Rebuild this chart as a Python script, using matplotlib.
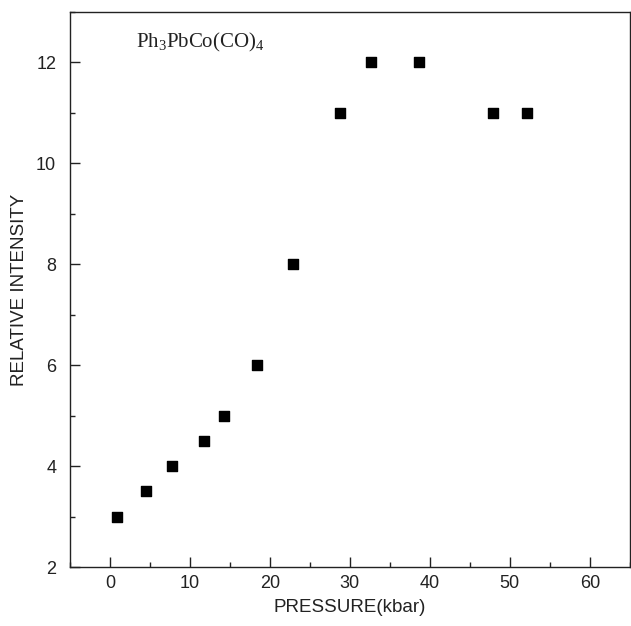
import matplotlib
matplotlib.use('Agg')
import matplotlib.pyplot as plt
from matplotlib.ticker import MultipleLocator

# pressure (kbar) and relative intensity
pressure = [0.9, 4.5, 7.7, 11.7, 14.3, 18.4, 22.9, 28.8, 32.6, 38.6, 47.9, 52.2]
intensity = [3.0, 3.5, 4.0, 4.5, 5.0, 6.0, 8.0, 11.0, 12.0, 12.0, 11.0, 11.0]

x_label = 'PRESSURE(kbar)'
y_label = 'RELATIVE INTENSITY'
compound = r'Ph$_3$PbCo(CO)$_4$'

plt.rcParams['font.family'] = ['Liberation Sans', 'DejaVu Sans']
plt.rcParams['mathtext.fontset'] = 'custom'
plt.rcParams['mathtext.rm'] = 'Liberation Serif'
plt.rcParams['mathtext.it'] = 'Liberation Serif:italic'

fig = plt.figure(figsize=(6.31, 6.26), dpi=100)
ax = fig.add_axes([0.111, 0.094, 0.887, 0.887])

ax.scatter(pressure, intensity, marker='s', s=50, color='black', zorder=3)

ax.set_xlim(-5, 65)
ax.set_ylim(2, 13)
ax.xaxis.set_major_locator(MultipleLocator(10))
ax.xaxis.set_minor_locator(MultipleLocator(5))
ax.yaxis.set_major_locator(MultipleLocator(2))
ax.yaxis.set_minor_locator(MultipleLocator(1))
ax.tick_params(which='both', direction='in', top=False, right=False,
               labelsize=13, colors='#222222', width=1.0)
ax.tick_params(axis='x', which='major', length=7, pad=6)
ax.tick_params(axis='y', which='major', length=7, pad=10)
ax.tick_params(which='minor', length=3.5)

for sp in ax.spines.values():
    sp.set_linewidth(1.0)
    sp.set_color('#222222')

ax.set_xlabel(x_label, fontsize=13.5, color='#222222', labelpad=5)
ax.set_ylabel(y_label, fontsize=13.5, color='#222222', labelpad=6)

ax.text(3.3, 12.4, compound, fontsize=15, color='#222222',
        family='Liberation Serif', ha='left', va='center')

fig.savefig('out.png', dpi=100)
